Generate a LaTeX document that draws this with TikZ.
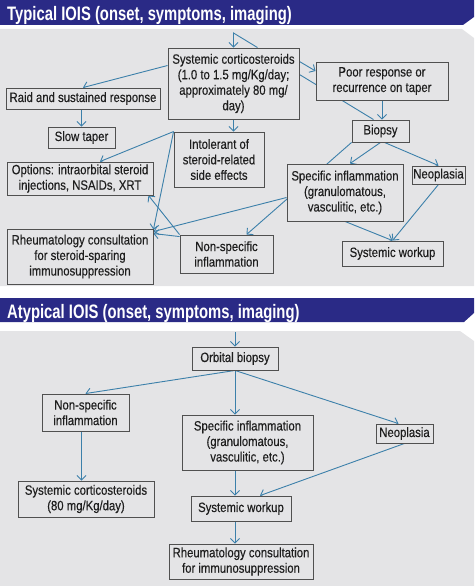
\documentclass[tikz,border=0pt]{standalone}
\usepackage{fontspec}
\setmainfont{Liberation Sans}[FakeStretch=0.84, FakeBold=0.35]
\newfontfamily\headFont{Liberation Sans}[FakeStretch=0.76]
\usetikzlibrary{arrows.meta}

\definecolor{headBlue}{RGB}{42,42,134}
\definecolor{panelGrey}{RGB}{228,228,230}
\definecolor{boxGrey}{RGB}{80,80,80}
\definecolor{arrowBlue}{RGB}{60,128,170}
\definecolor{textGrey}{RGB}{30,30,30}

\pgfdeclarelayer{panels}
\pgfdeclarelayer{connectors}
\pgfsetlayers{panels,connectors,main}

\begin{document}
\begin{tikzpicture}
            [x=1pt, y=-1pt,
             myBox/.style={rectangle,
                        draw=boxGrey,
                        fill=panelGrey,
                        text=textGrey,
                        line width=0.9pt,
                        align=center,
                        inner sep=0pt,
                        font=\fontsize{13.5}{15.5}\selectfont},
             myTitle/.style={anchor=base west,
                        text=white,
                        inner sep=0pt,
                        font=\headFont\bfseries\fontsize{19.5}{21}\selectfont},
             myArrow/.style={-{Straight Barb[length=4.5pt,width=9pt]},
                        draw=arrowBlue,
                        line width=0.9pt},
             myLine/.style={draw=arrowBlue,
                        line width=0.9pt}]

            \useasboundingbox (0,0) rectangle (474,586);

            \begin{pgfonlayer}{panels}
                \fill[headBlue] (0,0) -- (474,0) -- (474,17) -- (463,25) -- (0,25) -- cycle;
                \fill[panelGrey] (0,29) -- (462,29) -- (474,38) -- (474,286) -- (0,286) -- cycle;
                \fill[headBlue] (0,298) -- (474,298) -- (474,313) -- (464,322) -- (0,322) -- cycle;
                \fill[panelGrey] (0,331) -- (460,331) -- (474,341) -- (474,586) -- (0,586) -- cycle;
            \end{pgfonlayer}

            \node[myTitle] (typicalTitle) at (7,21) {Typical IOIS (onset, symptoms, imaging)};
            \node[myTitle] (atypicalTitle) at (7,318) {Atypical IOIS (onset, symptoms, imaging)};

            % typical course
            \node[myBox, minimum width=131, minimum height=71] (systemicCorticosteroids) at (233.5,83.5) {Systemic corticosteroids\\(1.0 to 1.5 mg/Kg/day;\\approximately 80 mg/\\day)};
            \node[myBox, minimum width=132, minimum height=38] (poorResponse) at (382,81) {Poor response or\\recurrence on taper};
            \node[myBox, minimum width=154, minimum height=21] (raidResponse) at (83,98.5) {Raid and sustained response};
            \node[myBox, minimum width=67, minimum height=21] (slowTaper) at (81.5,137.5) {Slow taper};
            \node[myBox, minimum width=90, minimum height=55] (intolerantSideEffects) at (219,159.5) {Intolerant of\\steroid-related\\side effects};
            \node[myBox, minimum width=146, minimum height=33] (optionsTreatment) at (80,178.5) {Options: intraorbital steroid\\injections, NSAIDs, XRT};
            \node[myBox, minimum width=57, minimum height=22] (biopsy) at (380.5,131) {Biopsy};
            \node[myBox, minimum width=116, minimum height=57] (specificInflammation) at (345,192.5) {Specific inflammation\\(granulomatous,\\vasculitic, etc.)};
            \node[myBox, minimum width=53, minimum height=18] (neoplasia) at (438.5,175) {Neoplasia};
            \node[myBox, minimum width=146, minimum height=55] (rheumatologySparing) at (80,256.5) {Rheumatology consultation\\for steroid-sparing\\immunosuppression};
            \node[myBox, minimum width=93, minimum height=38] (nonSpecific) at (226.5,254) {Non-specific\\inflammation};
            \node[myBox, minimum width=101, minimum height=25] (systemicWorkup) at (392.5,253.5) {Systemic workup};

            % atypical course
            \node[myBox, minimum width=86, minimum height=23] (orbitalBiopsy) at (235,358.5) {Orbital biopsy};
            \node[myBox, minimum width=87, minimum height=37] (nonSpecificAtyp) at (85.5,412.5) {Non-specific\\inflammation};
            \node[myBox, minimum width=131, minimum height=55] (specificInflammationAtyp) at (247.5,442.5) {Specific inflammation\\(granulomatous,\\vasculitic, etc.)};
            \node[myBox, minimum width=57, minimum height=19] (neoplasiaAtyp) at (404.5,433.5) {Neoplasia};
            \node[myBox, minimum width=136, minimum height=36] (systemicCorticosteroidsAtyp) at (86,499) {Systemic corticosteroids\\(80 mg/Kg/day)};
            \node[myBox, minimum width=100, minimum height=25] (systemicWorkupAtyp) at (241,508.5) {Systemic workup};
            \node[myBox, minimum width=144, minimum height=35] (rheumatologyAtyp) at (241,561.5) {Rheumatology consultation\\for immunosuppression};

            \coordinate (typicalEntry) at (233.5,33);
            \coordinate (atypicalEntry) at (235,332);

            \begin{pgfonlayer}{connectors}
                \draw [myArrow] ([xshift=24pt]systemicCorticosteroids.north) -- (typicalEntry) -- (systemicCorticosteroids.north);
                \draw [myArrow] ([yshift=22pt]systemicCorticosteroids.east) to ([yshift=10pt]poorResponse.west);
                \draw [myLine] ([yshift=9pt]systemicCorticosteroids.east) to ([xshift=-7pt]biopsy.north);
                \draw [myArrow] ([yshift=18pt]systemicCorticosteroids.west) to (raidResponse.north);
                \draw [myArrow] (slowTaper.north |- raidResponse.south) to (slowTaper.north);
                \draw [myArrow] (systemicCorticosteroids.south) to (systemicCorticosteroids.south |- intolerantSideEffects.north);
                \draw [myArrow] (intolerantSideEffects.north west) to ([xshift=20pt]optionsTreatment.north);
                \draw [myArrow] (intolerantSideEffects.north west) to ([yshift=-1pt]rheumatologySparing.north east);
                \draw [myArrow] ([yshift=-5pt]specificInflammation.west) to ([yshift=-3pt]rheumatologySparing.north east);
                \draw [myArrow] (nonSpecific.north west) to ([xshift=-5pt]optionsTreatment.south east);
                \draw [myArrow] ([yshift=-2pt]nonSpecific.north west) to ([yshift=-5pt]rheumatologySparing.north east);
                \draw [myArrow] (poorResponse.south) to (poorResponse.south |- biopsy.north);
                \draw [myArrow] (biopsy.south) to ([xshift=5pt]specificInflammation.north);
                \draw [myArrow] ([xshift=4pt]biopsy.south) to (neoplasia.north);
                \draw [myArrow] (biopsy.south west) to ([xshift=20pt]nonSpecific.north);
                \draw [myArrow] (specificInflammation.south) to (systemicWorkup.north);
                \draw [myArrow] (neoplasia.south) to (systemicWorkup.north);

                \draw [myArrow] (atypicalEntry) to (orbitalBiopsy.north);
                \draw [myArrow] (orbitalBiopsy.south) to (nonSpecificAtyp.north);
                \draw [myArrow] (orbitalBiopsy.south) to (orbitalBiopsy.south |- specificInflammationAtyp.north);
                \draw [myArrow] (orbitalBiopsy.south) to ([xshift=-6pt]neoplasiaAtyp.north);
                \draw [myArrow] ([xshift=-4pt]nonSpecificAtyp.south) to ([xshift=-4pt]nonSpecificAtyp.south |- systemicCorticosteroidsAtyp.north);
                \draw [myArrow] ([xshift=-12.5pt]specificInflammationAtyp.south) to ([xshift=-6pt]systemicWorkupAtyp.north);
                \draw [myArrow] (neoplasiaAtyp.south) to ([xshift=19pt]systemicWorkupAtyp.north);
                \draw [myArrow] ([xshift=-6pt]systemicWorkupAtyp.south) to ([xshift=-6pt]rheumatologyAtyp.north);
            \end{pgfonlayer}
        \end{tikzpicture}
\end{document}
